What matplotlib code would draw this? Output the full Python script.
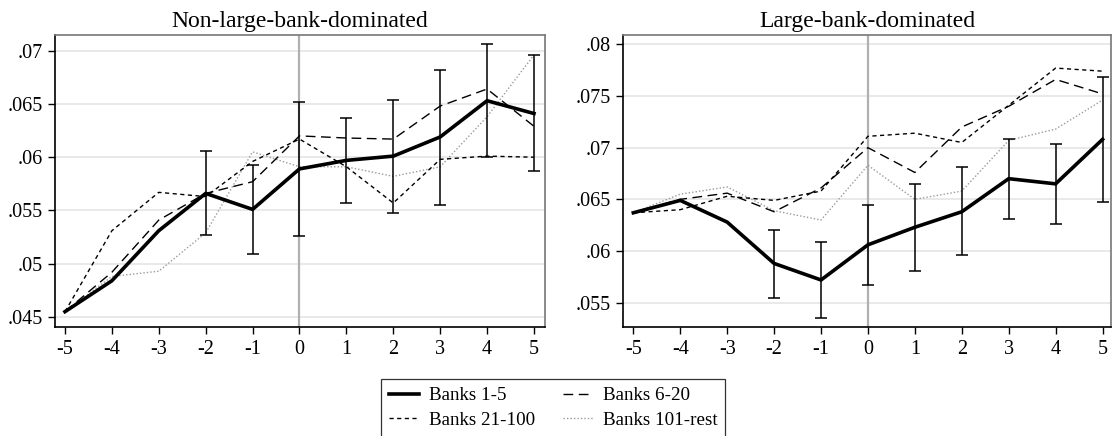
import matplotlib
matplotlib.use("Agg")
import matplotlib.pyplot as plt
from matplotlib.lines import Line2D

plt.rcParams['font.family'] = ['Liberation Serif', 'DejaVu Serif']

years = [-5, -4, -3, -2, -1, 0, 1, 2, 3, 4, 5]
xtick_labels = ["-5", "-4", "-3", "-2", "-1", "0", "1", "2", "3", "4", "5"]

# Non-large-bank-dominated
nl_b1_5 = [0.0455, 0.0484, 0.0531, 0.0566, 0.0551, 0.0589, 0.0597, 0.0601, 0.0619, 0.0653, 0.0641]
nl_b1_5_hi = [None, None, None, 0.0606, 0.0593, 0.0652, 0.0637, 0.0654, 0.0682, 0.0706, 0.0696]
nl_b1_5_lo = [None, None, None, 0.0527, 0.0509, 0.0526, 0.0557, 0.0548, 0.0555, 0.0600, 0.0587]
nl_b6_20 = [0.0455, 0.0492, 0.0541, 0.0566, 0.0577, 0.0620, 0.0618, 0.0617, 0.0648, 0.0664, 0.0629]
nl_b21_100 = [0.0455, 0.0531, 0.0567, 0.0563, 0.0596, 0.0617, 0.0591, 0.0557, 0.0598, 0.0601, 0.0600]
nl_b101 = [0.0455, 0.0488, 0.0493, 0.0529, 0.0605, 0.0591, 0.0591, 0.0582, 0.0591, 0.0638, 0.0696]

# Large-bank-dominated
lb_b1_5 = [0.0637, 0.0649, 0.0628, 0.0588, 0.0572, 0.0606, 0.0623, 0.0638, 0.0670, 0.0665, 0.0708]
lb_b1_5_hi = [None, None, None, 0.0620, 0.0609, 0.0645, 0.0665, 0.0681, 0.0708, 0.0704, 0.0768]
lb_b1_5_lo = [None, None, None, 0.0555, 0.0535, 0.0567, 0.0581, 0.0596, 0.0631, 0.0626, 0.0647]
lb_b6_20 = [0.0637, 0.0650, 0.0656, 0.0638, 0.0661, 0.0700, 0.0676, 0.0720, 0.0740, 0.0766, 0.0752]
lb_b21_100 = [0.0637, 0.0640, 0.0653, 0.0649, 0.0658, 0.0711, 0.0714, 0.0705, 0.0741, 0.0777, 0.0774]
lb_b101 = [0.0637, 0.0655, 0.0662, 0.0639, 0.0630, 0.0683, 0.0650, 0.0658, 0.0707, 0.0718, 0.0746]

nl_yticks = [0.045, 0.05, 0.055, 0.06, 0.065, 0.07]
nl_ylabels = [".045", ".05", ".055", ".06", ".065", ".07"]
lb_yticks = [0.055, 0.06, 0.065, 0.07, 0.075, 0.08]
lb_ylabels = [".055", ".06", ".065", ".07", ".075", ".08"]

titles = ["Non-large-bank-dominated", "Large-bank-dominated"]
legend_labels = ["Banks 1-5", "Banks 6-20", "Banks 21-100", "Banks 101-rest"]

W, H = 1115, 436
fig = plt.figure(figsize=(W / 100, H / 100), dpi=100)

def px_axes(x0, y0, x1, y1):
    return fig.add_axes([x0 / W, 1 - y1 / H, (x1 - x0) / W, (y1 - y0) / H])

styles = [
    dict(color='black', lw=2.6, ls='-', solid_joinstyle='miter'),
    dict(color='black', lw=1.0, ls=(0, (7, 4))),
    dict(color='black', lw=1.0, ls=(0, (3, 2.5))),
    dict(color='#9a9a9a', lw=1.0, ls=(0, (1, 1.5))),
]

def draw(ax, b1, hi, lo, b6, b21, b101, yticks, ylabels, ylim, xlim, title):
    ax.axvline(0, color='#b0b0b0', lw=1.6, zorder=1)
    for yt in yticks:
        ax.axhline(yt, color='#e3e3e3', lw=1.1, zorder=0)
    ax.plot(years, b101, zorder=3, **styles[3])
    ax.plot(years, b21, zorder=3, **styles[2])
    ax.plot(years, b6, zorder=3, **styles[1])
    ax.plot(years, b1, zorder=4, **styles[0])
    ex = [x for x, h in zip(years, hi) if h is not None]
    eh = [h for h in hi if h is not None]
    el = [l for l in lo if l is not None]
    ax.vlines(ex, el, eh, color='black', lw=1.1, zorder=5)
    ax.plot(ex, eh, ls='none', marker='_', ms=8, mew=1.1, color='black', zorder=5)
    ax.plot(ex, el, ls='none', marker='_', ms=8, mew=1.1, color='black', zorder=5)
    ax.set_xlim(*xlim)
    ax.set_ylim(*ylim)
    ax.set_xticks(years)
    ax.set_xticklabels(xtick_labels)
    ax.set_yticks(yticks)
    ax.set_yticklabels(ylabels)
    ax.tick_params(axis='both', direction='out', length=5, width=1, labelsize=14.5, color='black', pad=4)
    ax.tick_params(axis='x', pad=4)
    for s in ['top', 'right']:
        ax.spines[s].set_color('#777777')
        ax.spines[s].set_linewidth(1.2)
    for s in ['left', 'bottom']:
        ax.spines[s].set_color('black')
        ax.spines[s].set_linewidth(1.2)
    ax.set_title(title, fontsize=17, pad=6)

ax1 = px_axes(55, 35, 545, 327)
draw(ax1, nl_b1_5, nl_b1_5_hi, nl_b1_5_lo, nl_b6_20, nl_b21_100, nl_b101,
     nl_yticks, nl_ylabels, (0.04406, 0.07147), (-5.213, 5.235), titles[0])

ax2 = px_axes(623, 35, 1111, 327)
draw(ax2, lb_b1_5, lb_b1_5_hi, lb_b1_5_lo, lb_b6_20, lb_b21_100, lb_b101,
     lb_yticks, lb_ylabels, (0.05265, 0.0809), (-5.22, 5.18), titles[1])

# matplotlib fills legend column-wise; order so rows read 1-5, 6-20 / 21-100, 101-rest
order = [0, 2, 1, 3]
handles = [Line2D([], [], **styles[i]) for i in order]
labels = [legend_labels[i] for i in order]
leg = fig.legend(handles, labels, ncol=2, loc='upper center',
                 bbox_to_anchor=(553 / W, 1 - 379 / H), fontsize=13.7,
                 frameon=True, fancybox=False, edgecolor='black',
                 handlelength=1.6, columnspacing=1.45, handletextpad=0.5,
                 labelspacing=0.38, borderpad=0.42, borderaxespad=0)
leg.get_frame().set_linewidth(0.9)

fig.savefig("out.png", dpi=100)
